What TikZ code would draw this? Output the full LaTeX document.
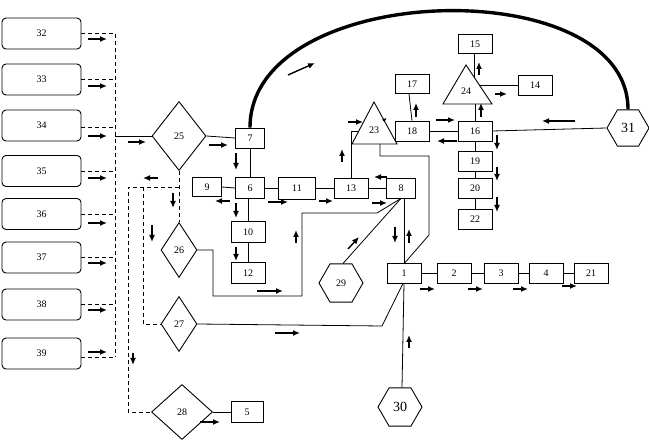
\documentclass[tikz,border=0pt]{standalone}
\usepackage{fontspec}
\setmainfont{Liberation Serif}
\usetikzlibrary{shapes.geometric,arrows.meta,calc}
\begin{document}
\begin{tikzpicture}[x=1pt,y=-1pt,
  lbl/.style={font=\fontsize{10}{12}\selectfont},
  box/.style={draw,line width=0.8pt,minimum width=34pt,minimum height=20pt,inner sep=0pt,fill=white,lbl},
  rbox/.style={draw,line width=0.9pt,rounded corners=4pt,minimum width=79pt,minimum height=31pt,inner sep=0pt,lbl},
  dia/.style={draw,diamond,line width=0.9pt,inner sep=0pt,fill=white,lbl},
  hex/.style={draw,regular polygon,regular polygon sides=6,minimum size=44pt,inner sep=0pt,line width=0.9pt,fill=white,lbl},
  ln/.style={line width=0.8pt},
  dsh/.style={dash pattern=on 4pt off 3pt,line width=0.8pt},
  arr/.style={-{Latex[length=7pt,width=6pt]},line width=1.4pt},
  tri/.style={draw,line width=0.9pt,fill=white},
]
\useasboundingbox (0,0) rectangle (649,446);

% left rounded boxes
\node[rbox] (b32) at (41.5,33.5) {32};
\node[rbox] (b33) at (41.5,79.5) {33};
\node[rbox] (b34) at (41.5,125.5) {34};
\node[rbox] (b35) at (41.5,171) {35};
\node[rbox] (b36) at (41.5,214) {36};
\node[rbox] (b37) at (41.5,257.5) {37};
\node[rbox] (b38) at (41.5,304.5) {38};
\node[rbox] (b39) at (41.5,353.5) {39};

\coordinate (bt) at (115,34);
\coordinate (bb) at (115,357);
\coordinate (bj) at (115,136);

% diamonds
\node[dia,minimum width=54pt,minimum height=69pt] (d25) at (179,136) {25};
\node[dia,minimum width=36pt,minimum height=55pt] (d26) at (179,250) {26};
\node[dia,minimum width=36pt,minimum height=55pt] (d27) at (179,324) {27};
\node[dia,minimum width=61pt,minimum height=55pt] (d28) at (182,412) {28};

% boxes
\node[box,minimum width=29pt] (b7) at (250,138) {7};
\node[box,minimum width=29pt,minimum height=21pt] (b6) at (250,188) {6};
\node[box,minimum width=29pt,minimum height=19pt] (b9) at (207,187) {9};
\node[box,minimum width=37pt,minimum height=22pt] (b11) at (297,188) {11};
\node[box,minimum height=21pt] (b10) at (248,232) {10};
\node[box,minimum height=21pt] (b12) at (248,273) {12};
\node[box] (b13) at (351,188) {13};
\node[box,minimum width=29pt] (b8) at (401,188) {8};
\node[box,minimum height=19pt] (b17) at (412,84) {17};
\node[box] (b18) at (412,131) {18};
\node[box] (b16) at (475,131) {16};
\node[box,minimum height=19pt] (b15) at (475,44) {15};
\node[box] (b14) at (535,85) {14};
\node[box] (b19) at (475,161) {19};
\node[box] (b20) at (475,188) {20};
\node[box] (b22) at (475,219) {22};
\node[box] (b1) at (404,273) {1};
\node[box] (b2) at (454,273) {2};
\node[box] (b3) at (501,273) {3};
\node[box] (b4) at (546,273) {4};
\node[box] (b21) at (591,273) {21};
\node[box,minimum width=32pt,minimum height=21pt] (b5) at (247,412) {5};

% hexagons
\node[hex] (h29) at (341,283) {29};
\node[hex,font=\fontsize{14}{16}\selectfont] (h30) at (400,407) {30};
\node[hex,minimum size=42pt,font=\fontsize{14}{16}\selectfont] (h31) at (628,128) {31};

% triangles
\coordinate (t23a) at (374,102);
\coordinate (t23l) at (352,144);
\coordinate (t23r) at (397,144);
\coordinate (t23w) at (358.8,131);
\coordinate (t23b) at (380,144);
\coordinate (t24a) at (466,65);
\coordinate (t24l) at (443,104);
\coordinate (t24r) at (492,104);
\coordinate (t24e) at (479.3,85);
\coordinate (t24n) at (474,77);
\draw[tri] (t23a) -- (t23l) -- (t23r) -- cycle;
\node[lbl] (t23) at (374,130) {23};
\draw[tri] (t24a) -- (t24l) -- (t24r) -- cycle;
\node[lbl] (t24) at (466,91) {24};

% dashed bus on the left
\draw[dsh] (bt) -- (bb);
\draw[dsh] (b32.east) -- (b32.east -| bt);
\draw[dsh] (b33.east) -- (b33.east -| bt);
\draw[dsh] ($(b34.east)+(0,1.5)$) -- ($(b34.east -| bt)+(0,1.5)$);
\draw[dsh] (b35.east) -- (b35.east -| bt);
\draw[dsh] (b36.east) -- (b36.east -| bt);
\draw[dsh] (b37.east) -- (b37.east -| bt);
\draw[dsh] (b38.east) -- (b38.east -| bt);
\draw[dsh] ($(b39.east)+(0,3.5)$) -- (bb);
\draw[ln] (bj) -- (d25.west);

% dashed from 25
\draw[dsh] (d25.south) -- (d26.north);
\draw[dsh] (179,187) -- (128,187) -- (128,412) -- (d28.west);
\draw[dsh] (143,187) -- (143 ,324) -- (d27.west);

% solid connectors
\draw[ln] (d25.east) -- (b7.west);
\draw[ln] (b7.south) -- (b6.north);
\draw[ln] (b9.east) -- (b6.west);
\draw[ln] (b6.east) -- (b11.west);
\draw[ln] (b11.east) -- (b13.west);
\draw[ln] (b13.east) -- (b8.west);
\draw[ln] (b10.north |- b6.south) -- (b10.north);
\draw[ln] (b10.south) -- (b12.north);
\draw[ln] (b13.north) |- (t23w);
\draw[ln] (t23b) -- (380,156) -- (429,156) -- (429,235) -- ($(b1.north)+(1,0)$);
\draw[ln] (b18.east) -- (b16.west);
\draw[ln] ($(b17.south)+(-3,0)$) -- (b18.north);
\draw[ln] (b16.south) -- (b19.north);
\draw[ln] (b19.south) -- (b20.north);
\draw[ln] (b20.south) -- (b22.north);
\draw[ln] (b16.north) -- (b16.north |- t24l);
\draw[ln] ($(b15.south)+(-1,0)$) -- (t24n);
\draw[ln] (t24e) -- (b14.west);
\draw[ln] (b16.east) -- (h31.west);
\draw[line width=3.4pt] (b7.north) .. controls (250,-20) and (628,-30) .. (h31.north);
\draw[ln] ($(b8.south)+(3,0)$) -- (b1.north);
\draw[ln] (b8.south) -- ($(h29.north)+(2,0)$);
\draw[ln] (b8.south) -- (377,213) -- (302,213) -- (302,296) -- (213,296) -- (213,250) -- (d26.east);
\draw[ln] (d27.east) -- (382,326) -- ($(b1.south)+(-1,0)$);
\draw[ln] ($(h30.north)+(2,0)$) -- (b1.south);
\draw[ln] (b1.east) -- (b2.west);
\draw[ln] (b2.east) -- (b3.west);
\draw[ln] (b3.east) -- (b4.west);
\draw[ln] (b4.east) -- (b21.west);
\draw[ln] (d28.east) -- (b5.west);

% free arrows
\foreach \y in {39,86,136,178,223,263,310,352} \draw[arr] (88,\y) -- (107,\y);
\draw[arr] (128,142) -- (146,142);
\draw[arr] (209,145) -- (228,145);
\draw[arr] (236,153) -- (236,170);
\draw[arr] (236,203) -- (236,218);
\draw[arr] (236,247) -- (236,261);
\draw[arr] (230,201) -- (215,201);
\draw[arr] (268,202) -- (288,202);
\draw[arr] (319,201) -- (333,201);
\draw[arr] (372,203) -- (387,203);
\draw[arr] (387,177) -- (374,177);
\draw[arr] (342,162) -- (342,149);
\draw[arr] (348,122) -- (363,122);
\draw[-{Latex[length=4pt,width=4pt]},line width=0.8pt] (383,121) -- (386.5,118);
\draw[arr] (416,117) -- (416,103);
\draw[arr] (436,120) -- (455,120);
\draw[arr] (457,141) -- (437,141);
\draw[arr] (497,135) -- (497,150);
\draw[arr] (497,167) -- (497,181);
\draw[arr] (497,197) -- (497,212);
\draw[arr] (479,75) -- (479,62);
\draw[arr] (495,94) -- (507,94);
\draw[arr] (481,117) -- (481,103);
\draw[arr] (575,121) -- (542,121);
\draw[arr] (288,75) -- (315,63);
\draw[arr] (395,227) -- (395,243);
\draw[arr] (409,243) -- (409,229);
\draw[arr] (348,249) -- (359,237);
\draw[arr] (296,243) -- (296,230);
\draw[arr] (257,291) -- (283,291);
\draw[arr] (420,289) -- (435,289);
\draw[arr] (468,289) -- (483,289);
\draw[arr] (513,289) -- (528,289);
\draw[arr] (562,286) -- (577,286);
\draw[arr] (409,348) -- (409,335);
\draw[arr] (275,333) -- (300,333);
\draw[arr] (200,422) -- (220,422);
\draw[arr] (158,178) -- (143,178);
\draw[arr] (173,193) -- (173,208);
\draw[arr] (152,225) -- (152,242);
\draw[arr] (133,353) -- (133,365);
\end{tikzpicture}
\end{document}
